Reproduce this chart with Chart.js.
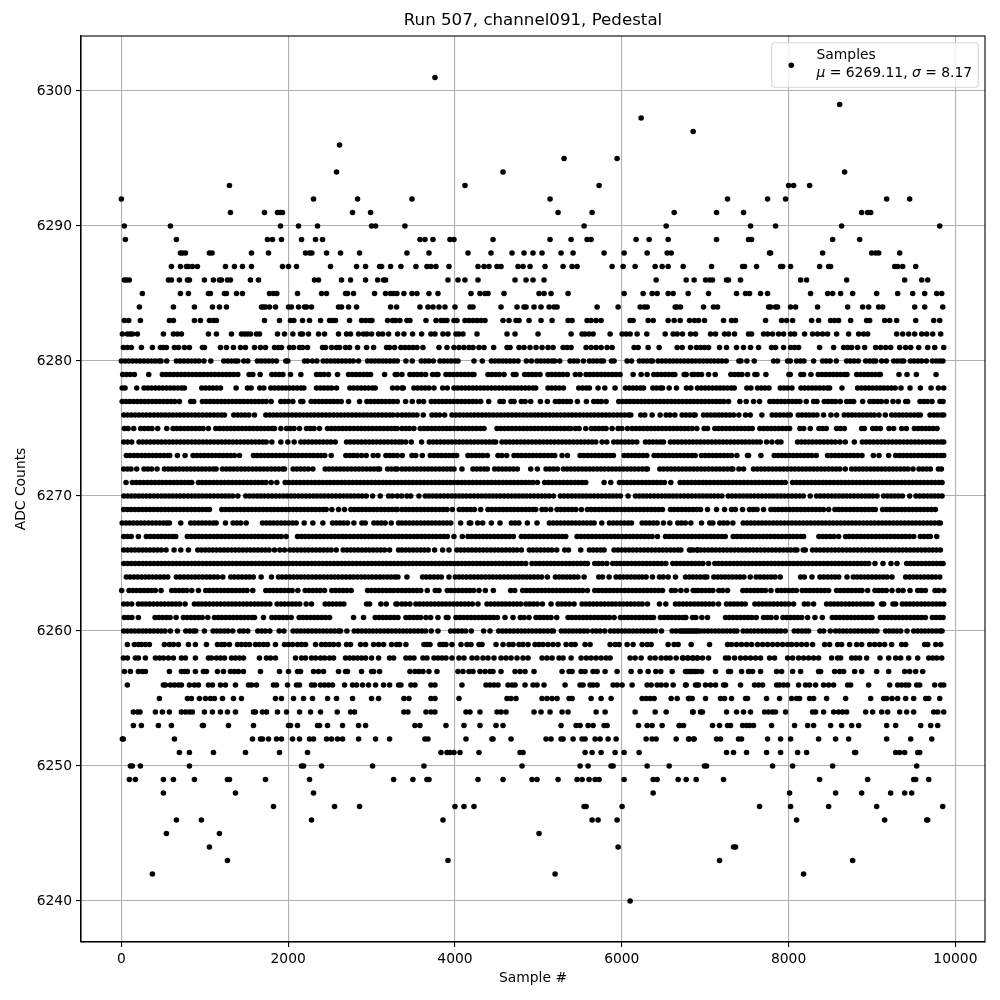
<!DOCTYPE html>
<html><head><meta charset="utf-8">
<style>html,body{margin:0;padding:0;background:#fff}#w{width:1000px;height:1000px;position:relative}</style>
<script src="https://cdn.jsdelivr.net/npm/chart.js@4"></script>
</head><body><div id="w"><canvas id="c" width="1000" height="1000"></canvas></div>
<script>
const chartTitle="Run 507, channel091, Pedestal";
const xTitle="Sample #";
const yTitle="ADC Counts";
const xTicks=[0,2000,4000,6000,8000,10000];
const yTicks=[6240,6250,6260,6270,6280,6290,6300];
const row6301=[3760];
const row6299=[8612];
const row6298=[6232];
const row6297=[6856];
const row6296=[2616];
const row6295=[5308,5944];
const row6294=[2580,4576,8672];
const row6293=[1296,4120,5728,8000,8060,8252];
const row6292=[0,2304,2832,3484,5140,7268,7748,7964,9176,9452];
const row6291=[1308,1716,1872,1904,1932,2772,2988,5236,5644,6628,7136,7460,8876,8948,8984];
const row6290=[36,588,1908,2124,2352,3000,3048,3400,5548,6532,7544,7844,8636,9812];
const row6289=[48,660,1752,1812,1920,2160,2328,2412,3580,3640,3736,3940,3988,4456,5140,5392,5584,5632,6172,6328,6556,7136,7520,7556,8528,8852];
const row6288=[708,732,768,1056,1088,1560,1764,2208,2256,2284,2460,2628,2856,3424,3688,4156,4432,4684,4828,4936,5044,5272,5416,5788,6028,6304,6544,6592,7772,7784,8408,8996,9044,9080,9332];
const row6287=[600,708,780,804,852,912,1248,1356,1452,1560,1932,2004,2100,2508,2820,2928,3096,3120,3228,3352,3532,3664,3712,3772,3928,4276,4348,4408,4504,4552,4756,4816,4900,5080,5296,5404,5464,5884,6016,6160,6400,6484,6556,6736,7076,7448,7472,7616,7904,7928,8024,8372,8480,8504,9272,9308,9368,9524];
const row6286=[36,64,96,564,600,696,792,816,996,1104,1176,1200,1272,1308,1548,1644,2316,2364,2640,2748,2928,3072,3144,3168,3916,4036,4120,4276,4720,4852,4936,5068,6412,6772,6868,7004,7052,7088,7256,7280,7424,8144,8216,8696,9392,9596,9668];
const row6285=[252,708,804,1044,1068,1236,1260,1380,1452,1776,1824,1864,2112,2400,2460,2688,2712,2784,3036,3168,3228,3264,3304,3388,3484,3544,3688,3796,4192,4300,4360,4396,4588,5008,5068,5152,5356,6028,6256,6364,6424,6556,6616,6796,7040,7376,7484,7532,7664,7748,8264,8468,8528,8624,8768,9056,9308,9488,9632,9776,9836];
const row6284=[216,624,876,1092,1176,1260,1680,1704,1728,1776,1848,2004,2040,2124,2196,2220,2280,2604,2640,2724,2820,3228,3300,3580,3676,3736,3808,3880,4000,4180,4216,4552,4744,4828,4852,4948,5032,5128,5188,5224,5704,5956,6220,6268,6304,6640,6664,6704,6980,7100,7148,7760,7784,7844,7868,8024,8084,8348,8708,8888,8960,9080,9128,9512,9632,9848];
const row6283=[36,88,228,576,624,876,948,1056,1104,1140,1716,1896,2028,2068,2172,2256,2388,2496,2532,2568,2736,2880,2928,2976,3004,3192,3252,3288,3340,3424,3460,3652,3772,3832,3868,3904,3988,4024,4120,4168,4216,4264,4312,4360,4576,4648,4732,4768,4888,5032,5164,5356,5404,5584,5632,5692,5752,6100,6136,6316,6376,6556,6628,6700,6812,6872,6920,6992,7220,7316,7364,7724,7916,7976,8048,8276,8360,8504,8552,8600,8744,8936,8972,9152,9212,9296,9524,9740,9812];
const row6282=[12,72,104,132,192,504,624,672,720,1044,1140,1320,1440,1476,1512,1548,1620,1656,1872,1956,2056,2148,2172,2244,2364,2436,2604,2700,2748,2844,2904,2944,3000,3084,3132,3204,3312,3388,3492,3600,3712,3760,3856,3916,4012,4048,4096,4264,4624,4720,4996,5392,5524,5560,5608,5656,5860,6004,6052,6100,6184,6300,6520,6616,6664,6728,6824,6884,7064,7124,7232,7280,7352,7520,7556,7700,7748,7808,7880,7940,8024,8072,8192,8288,8348,8408,8468,8576,8720,8840,8900,8948,9296,9368,9440,9512,9596,9656,9728,9824];
const row6281=[24,72,120,240,372,468,504,540,636,684,756,816,972,996,1188,1260,1344,1428,1488,1596,1668,1728,1836,1884,1920,2016,2064,2136,2172,2232,2412,2448,2520,2580,2616,2688,2736,2832,2940,3024,3180,3216,3276,3352,3400,3448,3496,3544,3616,3808,3904,3988,4048,4108,4168,4216,4288,4348,4464,4624,4660,4768,4828,4900,4972,5044,5116,5176,5296,5344,5392,5572,5632,5692,5752,5824,5884,6148,6196,6316,6448,6664,6724,6824,6896,6944,6992,7040,7172,7256,7376,7460,7544,7640,7796,7844,7940,8024,8072,8120,8372,8540,8660,8708,8756,8828,8912,9044,9104,9164,9224,9332,9404,9464,9560,9668,9752,9860];
const row6280=[0,45,90,135,180,225,270,315,360,405,450,476,544,660,705,750,795,840,885,930,990,1072,1228,1273,1318,1363,1396,1468,1516,1632,1677,1722,1767,1812,1860,1972,1996,2196,2232,2292,2344,2420,2465,2510,2555,2600,2645,2690,2735,2780,2844,2952,2997,3042,3087,3132,3177,3222,3267,3308,3412,3488,3596,3641,3686,3740,3820,3865,3910,3955,4000,4036,4228,4328,4436,4481,4526,4571,4616,4661,4706,4756,4856,4916,4984,5029,5074,5119,5164,5196,5256,5380,5425,5470,5540,5612,5657,5702,5747,5780,5876,5908,6064,6116,6212,6257,6302,6347,6368,6436,6481,6526,6571,6616,6661,6706,6751,6796,6841,6886,6931,6976,7021,7066,7111,7156,7201,7252,7404,7428,7500,7588,7820,7868,7988,8020,8096,8141,8184,8300,8408,8453,8498,8572,8696,8741,8786,8836,8924,8969,9014,9044,9116,9172,9260,9305,9350,9380,9460,9505,9550,9595,9652,9724,9769,9814,9850];
const row6279=[16,61,106,156,328,492,537,582,627,672,717,762,807,852,897,942,987,1032,1077,1122,1167,1212,1257,1302,1347,1396,1532,1576,1664,1804,1849,1894,1936,2028,2152,2340,2385,2430,2484,2592,2724,2769,2814,2859,2904,2949,2988,3156,3284,3308,3364,3460,3505,3550,3595,3648,3732,3777,3796,3892,3937,3982,4027,4072,4117,4162,4207,4228,4396,4441,4486,4531,4588,4700,4732,4836,4881,4926,4971,5020,5116,5161,5206,5251,5296,5348,5444,5500,5572,5617,5662,5707,5752,5797,5842,5887,5932,5980,6136,6232,6304,6384,6429,6474,6519,6564,6609,6636,6764,6844,6748,6772,6868,6913,6956,7040,7120,7308,7353,7398,7440,7508,7596,7620,7728,8004,8020,8148,8180,8268,8356,8401,8446,8491,8536,8581,8626,8671,8700,8816,8861,8906,8951,8996,9041,9086,9100,9324,9420,9532,9768];
const row6278=[10,44,184,272,317,362,407,452,497,542,587,632,677,722,756,964,1009,1054,1099,1144,1188,1376,1512,1556,1660,1708,1792,1837,1882,1927,1972,2017,2062,2107,2152,2188,2340,2385,2430,2475,2520,2580,2740,2785,2830,2875,2920,2965,3010,3044,3252,3308,3364,3380,3508,3553,3598,3643,3688,3748,3852,3908,3988,4033,4078,4123,4168,4213,4258,4303,4348,4393,4438,4483,4528,4573,4618,4663,4708,4753,4798,4843,4888,4933,4968,5116,5161,5206,5251,5300,5484,5529,5574,5612,5716,5796,5920,6044,6089,6134,6179,6224,6260,6372,6417,6462,6488,6568,6656,6776,6828,6908,6953,6998,7043,7088,7133,7178,7223,7268,7313,7348,7500,7548,7628,7673,7718,7764,7900,7945,7990,8040,8148,8193,8238,8283,8328,8373,8418,8463,8492,8640,8828,8873,8918,8963,9008,9053,9098,9143,9188,9233,9278,9348,9456,9580,9708,9796,9860];
const row6277=[10,55,100,145,190,235,280,325,370,415,460,505,550,595,640,696,832,868,972,1017,1062,1107,1152,1197,1242,1287,1332,1377,1422,1467,1512,1557,1602,1647,1692,1737,1796,1912,1957,2002,2056,2152,2176,2276,2321,2366,2411,2456,2501,2546,2591,2636,2724,2856,2944,2989,3034,3079,3124,3169,3214,3259,3308,3408,3488,3568,3624,3716,3761,3806,3851,3896,3941,3986,4031,4076,4121,4166,4211,4256,4308,4404,4540,4580,4672,4708,4796,4841,4908,5024,5108,5204,5249,5294,5339,5384,5468,5576,5664,5709,5754,5812,5964,6009,6054,6099,6144,6189,6234,6279,6324,6369,6414,6459,6504,6549,6594,6639,6684,6729,6774,6819,6864,6909,6954,6999,7044,7089,7134,7179,7224,7280,7416,7492,7580,7652,7776,7821,7866,7911,7956,8001,8046,8091,8136,8212,8300,8340,8428,8473,8518,8563,8620,8696,8741,8780,8888,8976,9021,9066,9111,9172,9252,9316,9404,9428,9576,9621,9666,9720,9816,9852];
const row6276=[30,75,120,165,210,255,300,345,390,435,480,525,570,615,660,705,750,795,840,885,930,975,1020,1065,1110,1155,1200,1236,1348,1393,1438,1483,1528,1596,1732,1777,1822,1867,1912,1957,2002,2047,2092,2137,2182,2227,2272,2317,2362,2407,2452,2497,2542,2587,2632,2677,2722,2767,2812,2857,2902,2947,2992,3037,3082,3127,3172,3217,3256,3312,3364,3409,3454,3499,3544,3620,3724,3769,3814,3876,3964,4009,4054,4099,4144,4189,4234,4279,4324,4369,4414,4459,4504,4549,4594,4639,4684,4729,4774,4819,4864,4909,4954,4999,5044,5089,5134,5179,5224,5269,5314,5359,5404,5449,5494,5539,5584,5629,5674,5719,5764,5809,5854,5899,5944,5989,6034,6079,6108,6228,6276,6364,6460,6532,6577,6636,6724,6769,6814,6859,6880,6980,7025,7070,7115,7160,7205,7250,7295,7340,7404,7484,7540,7680,7804,7849,7894,7939,7984,8020,8116,8161,8206,8251,8296,8341,8420,8508,8576,8668,8713,8758,8803,8848,8893,8938,8983,9028,9084,9160,9236,9281,9326,9371,9416,9461,9506,9551,9580,9696,9741,9786,9831,9860];
const row6275=[36,81,148,232,277,322,367,436,544,620,665,710,755,800,845,890,935,980,1044,1132,1177,1222,1267,1312,1357,1402,1447,1492,1537,1582,1627,1672,1717,1762,1807,1836,1912,1980,2025,2070,2136,2220,2265,2310,2376,2472,2517,2562,2607,2652,2697,2742,2787,2832,2877,2922,2967,3012,3057,3102,3147,3192,3237,3282,3308,3364,3409,3454,3508,3584,3629,3674,3719,3764,3809,3854,3899,3944,3989,4034,4079,4124,4169,4214,4259,4304,4348,4504,4549,4594,4639,4684,4729,4774,4819,4864,4909,4954,4999,5044,5089,5134,5179,5224,5269,5314,5359,5388,5444,5489,5568,5636,5681,5726,5771,5812,5884,5956,6001,6068,6124,6169,6214,6259,6304,6349,6394,6439,6484,6529,6574,6619,6664,6709,6754,6799,6844,6900,6988,7028,7116,7161,7206,7251,7296,7341,7386,7431,7476,7521,7564,7656,7701,7746,7791,7836,7881,7926,7971,8012,8136,8181,8260,8364,8409,8452,8576,8621,8668,8876,8908,9008,9053,9100,9204,9260,9356,9412,9508,9553,9598,9643,9688,9733,9780];
const row6274=[28,73,124,212,257,302,347,392,437,482,527,572,617,662,707,752,797,842,887,932,977,1022,1067,1112,1157,1202,1247,1292,1337,1382,1427,1472,1517,1562,1607,1652,1697,1736,1804,1912,1996,2072,2152,2197,2242,2287,2332,2377,2422,2467,2512,2564,2700,2745,2790,2835,2880,2925,2970,3015,3060,3105,3150,3195,3240,3285,3330,3364,3409,3476,3600,3692,3737,3782,3827,3872,3917,3962,4007,4052,4097,4142,4187,4232,4277,4322,4367,4412,4457,4488,4564,4609,4654,4699,4744,4789,4834,4879,4924,4969,5014,5059,5104,5149,5194,5239,5284,5329,5374,5419,5464,5509,5554,5599,5644,5688,5764,5820,5904,5949,5994,6039,6084,6129,6180,6284,6329,6374,6419,6464,6500,6584,6629,6674,6719,6764,6809,6854,6899,6944,6989,7034,7079,7124,7169,7214,7259,7304,7349,7394,7439,7484,7529,7574,7619,7660,7736,7800,7868,7908,8108,8153,8198,8243,8288,8333,8378,8423,8468,8513,8560,8616,8680,8788,8884,8929,8974,9019,9064,9109,9154,9199,9244,9289,9334,9379,9424,9469,9514,9559,9604,9649,9694,9739,9784,9829,9860];
const row6273=[60,105,150,195,240,285,330,375,420,465,510,555,580,672,764,860,905,950,995,1040,1085,1130,1175,1220,1265,1310,1355,1416,1584,1629,1674,1719,1764,1809,1854,1899,1944,1989,2034,2079,2124,2169,2214,2259,2304,2349,2394,2439,2516,2692,2737,2782,2827,2880,2936,3020,3076,3172,3217,3262,3308,3368,3484,3529,3608,3704,3749,3794,3839,3884,3929,3974,4020,4156,4201,4246,4291,4336,4388,4516,4561,4620,4708,4753,4798,4843,4888,4933,4978,5023,5068,5113,5158,5196,5284,5348,5500,5545,5590,5635,5680,5725,5770,5815,5860,5900,6028,6073,6118,6163,6208,6253,6300,6388,6433,6478,6523,6568,6613,6658,6703,6748,6793,6838,6880,6956,7001,7046,7091,7136,7181,7226,7271,7316,7380,7508,7520,7668,7828,7873,7918,7963,8008,8053,8098,8143,8188,8233,8278,8332,8468,8513,8558,8603,8648,8693,8738,8783,8828,8880,9016,9084,9200,9284,9329,9374,9419,9464,9509,9554,9599,9644,9689,9734,9779,9824,9860];
const row6272=[28,73,116,184,272,317,362,428,516,561,606,651,696,741,786,831,876,921,966,1011,1056,1101,1136,1212,1257,1302,1347,1392,1437,1482,1527,1572,1617,1662,1707,1752,1797,1842,1887,1932,1956,2060,2105,2150,2195,2240,2296,2444,2489,2534,2579,2624,2669,2714,2759,2804,2849,2894,2939,2984,3029,3074,3096,3192,3237,3282,3308,3364,3409,3454,3499,3544,3589,3634,3679,3724,3769,3814,3859,3904,3949,3988,4084,4216,4261,4306,4351,4388,4476,4521,4566,4611,4656,4701,4748,4908,4988,5092,5137,5182,5228,5300,5345,5390,5435,5480,5525,5570,5615,5660,5705,5750,5795,5840,5885,5930,5975,6020,6065,6110,6155,6200,6245,6290,6308,6456,6501,6546,6591,6636,6681,6726,6771,6816,6861,6906,6951,6996,7041,7086,7131,7176,7221,7266,7311,7332,7404,7460,7580,7625,7670,7715,7760,7805,7850,7895,7940,7985,8030,8075,8120,8165,8210,8255,8300,8345,8390,8435,8480,8525,8570,8615,8680,8756,8801,8846,8891,8936,8981,9026,9071,9116,9161,9206,9251,9296,9341,9386,9431,9492,9564,9609,9654,9700,9796,9832];
const row6271=[56,132,177,222,267,312,357,402,447,492,537,582,627,672,717,762,807,844,924,969,1014,1059,1104,1149,1194,1239,1284,1329,1374,1419,1464,1509,1554,1599,1644,1689,1734,1796,1864,1964,2009,2054,2099,2144,2189,2234,2279,2324,2369,2414,2459,2504,2549,2594,2639,2684,2729,2774,2819,2864,2909,2954,2999,3044,3089,3134,3179,3224,3269,3314,3359,3404,3449,3494,3539,3584,3629,3674,3719,3764,3809,3854,3899,3944,3989,4034,4079,4124,4169,4214,4259,4304,4349,4394,4439,4484,4529,4574,4619,4664,4709,4754,4799,4844,4889,4934,4988,5076,5121,5166,5211,5256,5301,5346,5391,5436,5481,5526,5568,5788,5868,5972,6017,6062,6107,6152,6197,6242,6287,6332,6377,6422,6467,6512,6588,6700,6745,6790,6835,6880,6925,6970,7015,7060,7105,7150,7195,7240,7285,7330,7375,7420,7465,7510,7555,7600,7645,7690,7735,7780,7825,7870,7915,7960,8048,8093,8138,8183,8228,8273,8318,8363,8408,8453,8498,8543,8588,8633,8678,8723,8768,8813,8858,8903,8948,8993,9038,9083,9128,9173,9218,9263,9308,9353,9398,9443,9488,9533,9578,9623,9668,9713,9758,9803,9840];
const row6270=[30,75,120,165,210,255,300,345,390,435,480,525,570,615,660,705,750,795,840,885,930,975,1020,1065,1110,1155,1200,1245,1290,1335,1396,1492,1537,1582,1627,1672,1717,1762,1807,1852,1897,1942,1987,2032,2077,2122,2167,2212,2257,2302,2347,2392,2437,2482,2527,2572,2617,2662,2707,2752,2797,2842,2887,2936,3012,3104,3204,3249,3308,3360,3424,3469,3568,3644,3689,3734,3779,3824,3869,3914,3959,4004,4049,4094,4139,4184,4229,4274,4319,4364,4409,4454,4499,4544,4589,4634,4679,4724,4769,4814,4859,4904,4949,4994,5039,5084,5129,5180,5264,5309,5354,5399,5444,5489,5534,5579,5624,5669,5714,5759,5804,5849,5894,5939,5984,6076,6164,6209,6254,6299,6344,6389,6434,6479,6524,6569,6614,6659,6704,6749,6794,6839,6884,6929,6974,7019,7064,7109,7154,7200,7276,7321,7366,7411,7456,7501,7546,7591,7636,7681,7726,7771,7816,7861,7906,7951,7996,8041,8086,8131,8176,8260,8336,8381,8426,8471,8516,8561,8606,8651,8696,8741,8786,8831,8876,8921,8966,9011,9060,9140,9185,9230,9275,9320,9365,9452,9528,9573,9618,9663,9708,9753,9798,9840];
const row6269=[28,73,118,163,208,253,298,343,388,433,478,523,568,613,658,703,748,793,838,883,928,973,1018,1056,1204,1249,1294,1339,1384,1429,1474,1519,1564,1609,1654,1699,1744,1789,1834,1879,1924,1969,2014,2059,2104,2149,2194,2239,2284,2329,2374,2419,2456,2524,2604,2676,2752,2797,2842,2887,2932,2977,3022,3067,3112,3157,3202,3247,3292,3308,3364,3409,3454,3499,3544,3589,3634,3679,3724,3769,3814,3859,3904,3968,4052,4097,4142,4187,4232,4308,4396,4441,4486,4531,4576,4621,4666,4711,4756,4801,4846,4891,4936,4968,5044,5089,5148,5224,5269,5314,5359,5404,5449,5516,5588,5633,5678,5723,5768,5813,5858,5903,5948,5993,6038,6083,6128,6173,6218,6263,6308,6353,6398,6443,6488,6584,6629,6674,6719,6764,6809,6854,6899,6944,7028,7136,7232,7316,7361,7448,7532,7577,7622,7700,7788,7833,7878,7923,7968,8013,8058,8103,8148,8193,8238,8283,8328,8373,8418,8480,8556,8601,8646,8691,8736,8781,8826,8871,8916,8961,9006,9040,9128,9173,9218,9263,9308,9353,9398,9443,9488,9533,9578,9623,9668,9713,9760];
const row6268=[10,55,100,145,190,235,280,325,370,415,460,505,544,576,712,832,877,922,967,1012,1057,1102,1136,1248,1340,1385,1430,1496,1692,1737,1782,1827,1872,1917,1962,2007,2052,2096,2192,2296,2416,2532,2577,2622,2667,2712,2788,2884,2924,3028,3073,3118,3163,3236,3324,3364,3409,3454,3499,3544,3589,3634,3679,3724,3769,3814,3859,3904,3949,4068,4172,4188,4272,4332,4436,4540,4676,4721,4766,4868,4984,5132,5177,5222,5267,5312,5357,5402,5447,5492,5537,5582,5627,5668,5760,5852,5897,5942,5987,6032,6077,6116,6244,6289,6334,6379,6424,6500,6576,6672,6717,6762,6828,6956,7056,7092,7176,7221,7266,7332,7456,7501,7546,7591,7636,7681,7726,7771,7816,7861,7906,7951,7996,8041,8086,8131,8176,8221,8266,8311,8356,8401,8446,8491,8536,8581,8626,8671,8716,8761,8806,8851,8896,8941,8986,9031,9076,9121,9166,9211,9256,9301,9346,9391,9436,9481,9526,9571,9616,9661,9706,9751,9796,9820];
const row6267=[28,73,118,204,300,345,390,435,480,525,570,615,652,792,837,882,927,972,1017,1062,1107,1152,1197,1242,1287,1332,1377,1422,1467,1512,1557,1602,1647,1692,1737,1782,1827,1872,1917,1976,2112,2157,2202,2247,2292,2337,2382,2427,2472,2517,2562,2607,2652,2697,2742,2787,2832,2877,2922,2967,3012,3057,3102,3147,3192,3237,3282,3327,3372,3417,3462,3507,3552,3597,3642,3687,3732,3777,3822,3867,3908,3988,4088,4156,4201,4246,4291,4336,4381,4426,4471,4516,4561,4606,4651,4700,4796,4841,4886,4931,4976,5021,5066,5111,5156,5201,5246,5291,5328,5464,5509,5554,5599,5644,5689,5734,5779,5824,5869,5914,5959,6004,6049,6094,6139,6184,6229,6274,6319,6364,6428,6524,6569,6614,6659,6704,6749,6794,6839,6884,6929,6974,7019,7064,7109,7154,7199,7240,7336,7381,7426,7471,7516,7561,7606,7651,7696,7741,7786,7831,7876,7921,7966,8011,8056,8101,8146,8180,8364,8409,8454,8499,8544,8600,8684,8729,8774,8819,8864,8909,8954,8999,9044,9089,9134,9179,9224,9269,9314,9359,9404,9449,9500,9580,9625,9670,9700,9776];
const row6266=[28,73,118,163,208,253,298,343,388,433,478,536,632,712,804,916,961,1006,1051,1096,1141,1186,1231,1276,1321,1366,1411,1456,1501,1546,1591,1636,1681,1726,1771,1836,1900,1956,2020,2065,2110,2155,2200,2245,2290,2335,2380,2425,2470,2515,2576,2660,2705,2750,2795,2840,2885,2930,2975,3020,3065,3110,3155,3216,3324,3364,3409,3454,3499,3544,3589,3634,3679,3756,3852,3928,4024,4069,4114,4159,4204,4249,4294,4339,4384,4429,4474,4519,4564,4609,4654,4699,4744,4796,4892,4937,4982,5027,5072,5117,5162,5220,5316,5361,5508,5612,5657,5702,5747,5788,5908,5953,5998,6043,6088,6133,6178,6223,6268,6313,6358,6403,6448,6493,6538,6583,6628,6673,6708,6824,6908,6812,6857,6902,6947,6992,7037,7082,7127,7172,7217,7262,7307,7352,7397,7442,7487,7532,7577,7622,7667,7712,7757,7802,7847,7892,7937,7982,8027,8072,8100,8176,8200,8288,8333,8378,8423,8468,8513,8558,8603,8648,8693,8738,8783,8828,8873,8918,8963,9008,9053,9098,9143,9188,9233,9278,9323,9368,9413,9458,9503,9548,9593,9638,9683,9728,9773,9820];
const row6265=[30,75,120,165,210,255,300,345,390,435,480,525,570,615,660,705,750,795,840,885,930,975,1020,1065,1110,1155,1200,1245,1290,1335,1380,1425,1470,1515,1560,1605,1650,1695,1740,1785,1830,1875,1920,1965,2010,2055,2100,2145,2190,2235,2280,2325,2370,2415,2460,2505,2550,2595,2640,2685,2730,2775,2820,2865,2910,2955,3000,3045,3090,3135,3180,3225,3270,3315,3360,3405,3450,3495,3540,3585,3630,3675,3720,3765,3810,3855,3900,3945,3990,4035,4080,4125,4170,4215,4260,4305,4350,4395,4440,4485,4530,4575,4620,4665,4710,4755,4800,4848,4924,4969,5014,5059,5104,5149,5194,5239,5284,5329,5374,5419,5464,5509,5554,5588,5676,5721,5766,5820,5892,5937,5982,6027,6072,6117,6162,6207,6252,6297,6342,6387,6432,6477,6528,6612,6657,6702,6747,6792,6837,6882,6927,6972,7040,7116,7161,7206,7251,7296,7341,7386,7431,7476,7521,7566,7611,7656,7701,7746,7791,7836,7881,7926,7971,8016,8061,8106,8151,8196,8241,8286,8331,8376,8421,8466,8511,8556,8601,8646,8691,8736,8781,8826,8871,8916,8960,9036,9132,9228,9300,9416,9461,9506,9551,9596,9641,9686,9731,9776,9821,9852];
const row6264=[60,105,150,195,240,285,330,375,420,465,510,556,660,705,750,795,840,885,930,975,1020,1065,1110,1155,1216,1312,1357,1402,1447,1492,1537,1582,1676,1800,1884,1929,1974,2019,2064,2109,2154,2199,2244,2289,2334,2379,2424,2469,2514,2559,2604,2649,2694,2739,2784,2829,2874,2919,2964,3009,3054,3099,3144,3189,3234,3279,3316,3424,3612,3657,3702,3747,3792,3837,3928,4004,4049,4094,4139,4184,4229,4274,4319,4364,4409,4454,4499,4544,4589,4634,4679,4724,4769,4814,4859,4904,4949,4994,5039,5108,5204,5249,5294,5339,5384,5429,5474,5548,5724,5769,5848,5932,5977,6022,6067,6112,6157,6202,6247,6292,6368,6452,6497,6556,6644,6764,6809,6854,6899,6944,6989,7020,7104,7149,7194,7239,7284,7329,7374,7419,7464,7540,7612,7657,7702,7747,7792,7837,7900,8144,8189,8280,8376,8421,8466,8511,8556,8601,8700,8776,8821,8866,8911,8956,9001,9046,9091,9136,9181,9240,9404,9449,9494,9539,9584,9629,9674,9719,9764,9812];
const row6263=[4,92,137,182,227,272,317,362,407,476,604,649,694,739,784,844,924,1012,1057,1102,1147,1192,1237,1282,1327,1372,1417,1462,1507,1576,1732,1777,1822,1867,1912,1957,2002,2047,2116,2204,2249,2294,2339,2384,2436,2524,2569,2614,2659,2704,2756,2952,2997,3042,3087,3132,3177,3222,3267,3316,3364,3409,3454,3499,3544,3589,3668,3764,3808,3908,3953,3998,4043,4088,4133,4178,4223,4288,4364,4460,4668,4716,4812,4857,4902,4947,4992,5037,5082,5127,5172,5217,5262,5307,5352,5397,5442,5487,5532,5588,5676,5721,5766,5811,5856,5901,5946,5991,6036,6081,6126,6171,6216,6261,6306,6351,6396,6441,6488,6596,6641,6708,6776,6884,6856,6916,6961,7006,7051,7092,7164,7209,7268,7452,7497,7542,7587,7632,7677,7722,7788,7868,7913,7958,8003,8048,8092,8164,8209,8254,8299,8344,8389,8434,8480,8576,8621,8666,8711,8756,8801,8846,8880,8948,9036,9081,9126,9171,9240,9316,9372,9456,9548,9593,9640,9756,9801,9860];
const row6262=[28,73,124,204,249,294,339,384,429,474,519,564,609,654,699,764,876,921,966,1011,1056,1101,1146,1191,1236,1281,1326,1371,1416,1461,1506,1551,1596,1641,1686,1731,1780,1868,1913,1958,2003,2048,2093,2138,2216,2280,2444,2489,2534,2579,2624,2668,2940,2976,3112,3176,3292,3308,3364,3409,3460,3532,3577,3622,3667,3712,3757,3802,3847,3892,3937,3982,4027,4072,4117,4162,4208,4276,4384,4429,4474,4519,4564,4609,4654,4699,4744,4788,4852,4897,4942,4987,5048,5152,5236,5281,5326,5371,5428,5524,5569,5614,5659,5704,5749,5794,5839,5884,5929,5974,6019,6064,6109,6154,6199,6244,6308,6452,6528,6644,6689,6734,6779,6824,6869,6914,6959,7004,7049,7094,7160,7256,7301,7346,7391,7436,7480,7596,7641,7686,7731,7776,7821,7866,7911,7956,8001,8060,8188,8233,8300,8456,8501,8546,8591,8636,8681,8726,8771,8816,8861,8906,8951,9000,9116,9140,9252,9284,9364,9409,9454,9499,9544,9589,9634,9679,9724,9769,9814,9860];
const row6261=[36,81,126,204,404,449,494,539,584,656,744,789,834,879,924,969,1036,1116,1161,1206,1251,1296,1341,1386,1431,1476,1521,1566,1596,1704,1804,1849,1894,1939,1984,2036,2132,2177,2222,2267,2312,2357,2402,2447,2496,2784,2904,3044,3089,3134,3179,3224,3269,3316,3412,3457,3502,3547,3588,3652,3708,3796,3896,3916,4012,4057,4102,4147,4192,4237,4282,4327,4372,4417,4462,4508,4600,4696,4784,4829,4888,4972,5017,5062,5107,5152,5220,5356,5401,5446,5491,5536,5581,5626,5671,5716,5761,5806,5851,5908,5984,6029,6074,6119,6164,6209,6254,6299,6344,6380,6464,6509,6554,6599,6644,6689,6734,6768,6888,6760,6848,6960,7028,7244,7289,7334,7379,7424,7469,7514,7559,7612,7700,7745,7790,7852,7932,7977,8022,8067,8112,8157,8228,8316,8404,8524,8569,8614,8659,8704,8749,8794,8839,8884,8929,8974,9000,9100,9145,9190,9235,9280,9325,9370,9415,9460,9505,9550,9595,9640,9724,9769,9814,9852];
const row6260=[28,73,118,163,208,253,298,343,388,433,478,523,588,672,772,817,862,892,996,1100,1145,1190,1235,1280,1336,1420,1465,1516,1636,1681,1726,1780,1892,1948,2060,2105,2150,2195,2240,2285,2330,2375,2420,2465,2510,2555,2600,2628,2704,2792,2837,2882,2927,2972,3017,3062,3107,3152,3197,3242,3287,3332,3377,3422,3467,3512,3557,3602,3647,3716,3796,3948,3993,4038,4083,4128,4196,4344,4420,4524,4569,4614,4659,4704,4749,4794,4839,4884,4929,4974,5019,5064,5109,5154,5180,5276,5321,5366,5411,5456,5501,5546,5588,5652,5697,5742,5796,5864,5909,5954,5999,6044,6089,6134,6179,6224,6269,6314,6359,6404,6476,6604,6649,6694,6739,6784,6829,6874,6908,6716,6761,6806,6851,6896,6941,6986,7031,7076,7121,7166,7211,7256,7301,7346,7380,7456,7501,7546,7591,7636,7681,7726,7771,7816,7861,7906,7960,8068,8113,8158,8203,8240,8376,8421,8500,8564,8609,8654,8699,8744,8789,8834,8879,8924,8969,9014,9060,9164,9209,9254,9299,9344,9420,9500,9545,9590,9635,9680,9725,9770,9815,9840];
const row6259=[72,156,204,240,288,336,516,576,624,684,804,888,1020,1152,1200,1236,1296,1392,1440,1488,1536,1608,1656,1704,1752,1848,1956,2004,2052,2112,2160,2208,2328,2400,2448,2496,2544,2604,2700,2748,2868,2928,3024,3084,3144,3240,3300,3336,3412,3628,3664,3700,3820,3856,3892,3964,4072,4144,4192,4288,4324,4492,4576,4648,4696,4768,4816,4876,4960,5008,5056,5116,5176,5236,5332,5392,5440,5560,5620,5860,5920,5968,6064,6136,6244,6304,6352,6556,6628,6676,6832,7052,7268,7316,7376,7436,7496,7556,7628,7688,7748,7808,7868,7928,7988,8036,8096,8156,8216,8288,8432,8492,8588,8636,8732,8816,8876,8972,9032,9092,9152,9236,9356,9404,9632,9668,9764,9824];
const row6258=[24,72,168,204,288,408,456,504,564,624,720,768,888,1044,1080,1140,1188,1236,1320,1368,1416,1464,1656,1740,1788,1848,2088,2160,2208,2280,2328,2388,2436,2496,2544,2688,2736,2784,2832,2880,2928,3000,3084,3216,3264,3412,3460,3508,3616,3664,3748,3796,3844,3892,3964,4048,4108,4204,4264,4336,4396,4468,4552,4612,4672,4744,4816,4876,5044,5104,5164,5248,5296,5392,5512,5576,5632,5692,5752,5812,5860,6100,6160,6232,6340,6400,6472,6532,6580,6652,6736,6796,6856,6904,6728,6788,6848,6908,6968,7040,7244,7280,7352,7424,7484,7544,7604,7664,7772,7832,7988,8048,8120,8180,8240,8300,8360,8516,8588,8624,8756,8804,8852,8936,9096,9200,9284,9344,9440,9548,9680,9728,9776,9836];
const row6257=[36,108,204,252,288,576,720,756,792,888,984,1020,1152,1224,1308,1356,1404,1464,1668,1896,2004,2112,2148,2304,2364,2424,2604,2688,2712,2880,3000,3024,3096,3460,3520,3568,3616,3688,3784,4036,4096,4168,4216,4300,4360,4420,4456,4552,4720,4780,4840,4948,5284,5368,5404,5512,5560,5656,5704,5800,5944,6112,6220,6316,6408,6468,6604,6784,6832,6880,6764,6812,6860,6908,6956,7124,7280,7304,7436,7520,7568,7664,7856,7916,8048,8144,8360,8384,8552,8612,8660,8792,8876,9056,9200,9392,9452,9524,9608];
const row6256=[72,504,528,588,636,684,720,816,876,924,1044,1092,1188,1248,1368,1524,1560,1620,1824,1860,1992,2100,2136,2280,2316,2388,2436,2484,2532,2676,2772,2820,2892,2964,3048,3144,3216,3324,3352,3472,3520,3712,3760,4084,4372,4420,4468,4516,4636,4684,4720,4840,4936,4984,5068,5320,5500,5536,5620,5656,5704,5896,5944,6004,6124,6304,6352,6424,6472,6532,6616,6772,6904,6764,6884,6920,7004,7064,7124,7220,7244,7424,7592,7640,7688,7856,7892,7940,7988,8120,8204,8252,8324,8420,8480,8540,8708,8744,8960,9212,9308,9356,9404,9440,9536,9572,9752,9824,9860];
const row6255=[456,792,840,936,1008,1068,1116,1212,1344,1440,1848,1920,2064,2184,2292,2472,2580,2772,3000,3084,3388,3448,3712,3760,4048,4624,4672,4732,5044,5104,5164,5224,5368,5404,5632,5752,5872,6244,6292,6340,6388,6592,6664,6808,6844,6800,6824,7004,7184,7232,7316,7484,7508,7736,7892,8036,8096,8132,8252,8300,8456,8684,8984,9140,9176,9240,9308,9404,9500,9644,9680,9812];
const row6254=[144,192,224,408,492,576,720,768,816,852,996,1092,1188,1272,1368,1584,1608,1692,1740,1872,1980,2136,2268,2388,2588,2748,2796,3388,3436,3652,3712,3760,4132,4180,4300,4504,4552,4612,4948,5032,5140,5284,5356,5692,5800,6160,6400,6532,6856,6848,6944,6968,7256,7376,7460,7544,7712,7760,7808,7844,7964,8288,8324,8420,8540,8600,8648,8696,8924,9008,9116,9188,9332,9416,9500,9740,9788,9860];
const row6253=[144,240,444,600,972,984,1284,1584,2004,2028,2112,2352,2376,2472,2652,2844,2928,3520,3580,3892,4108,4300,4492,4576,5272,5452,5500,5596,5656,5788,5824,6200,6304,6364,6484,6688,6692,6740,7088,7172,7268,7304,7448,7496,7532,7580,7796,8072,8228,8300,8504,8636,8756,8840,9176,9284,9584,9704,9788];
const row6252=[12,24,636,1572,1668,1692,1764,1860,1920,2052,2136,2256,2304,2460,2520,2592,2652,2844,3048,3216,3640,3676,4132,4444,4456,4672,5092,5152,5272,5296,5416,5524,5560,5680,5740,5836,5932,6292,6364,6412,6652,6808,6868,6800,6860,7136,7184,7400,7436,7748,7904,8024,8360,8564,8720,9176,9464,9716];
const row6251=[696,816,1104,1488,1896,2232,3832,3904,3940,3988,4060,4288,4780,4816,5560,5644,5752,5920,6028,6208,7256,7340,7496,7736,7904,8108,8216,8792,8804,9284,9332,9392,9548,9572];
const row6250=[108,132,228,816,2160,2184,2400,3012,3628,4804,5500,5596,5872,5896,6304,6568,6992,7016,7808,8048,8528,9536];
const row6249=[96,168,504,624,876,1272,1296,1728,2256,3264,3496,3664,3688,4276,4576,4924,4984,5236,5464,5524,5608,5680,5728,6028,6376,6424,6676,6772,6892,7220,8372,8948,9500,9524,9680];
const row6248=[504,1368,2304,6376,8012,8564,8876,9224,9392,9476];
const row6247=[1824,2556,2856,4000,4108,4228,5548,5572,6004,7652,8024,8480,9056,9848];
const row6246=[660,960,2280,3856,5644,5716,5944,8096,9152,9656,9668];
const row6245=[540,1176,5008];
const row6244=[1056,5956,7340,7364];
const row6243=[1272,3916,7172,8768];
const row6242=[372,5200,8180];
const row6240=[6100];
const rowLevels=[6301,6299,6298,6297,6296,6295,6294,6293,6292,6291,6290,6289,6288,6287,6286,6285,6284,6283,6282,6281,6280,6279,6278,6277,6276,6275,6274,6273,6272,6271,6270,6269,6268,6267,6266,6265,6264,6263,6262,6261,6260,6259,6258,6257,6256,6255,6254,6253,6252,6251,6250,6249,6248,6247,6246,6245,6244,6243,6242,6240];
const rowSamples=[row6301,row6299,row6298,row6297,row6296,row6295,row6294,row6293,row6292,row6291,row6290,row6289,row6288,row6287,row6286,row6285,row6284,row6283,row6282,row6281,row6280,row6279,row6278,row6277,row6276,row6275,row6274,row6273,row6272,row6271,row6270,row6269,row6268,row6267,row6266,row6265,row6264,row6263,row6262,row6261,row6260,row6259,row6258,row6257,row6256,row6255,row6254,row6253,row6252,row6251,row6250,row6249,row6248,row6247,row6246,row6245,row6244,row6243,row6242,row6240];
const points=[];
rowLevels.forEach((lvl,i)=>rowSamples[i].forEach(s=>points.push({x:s,y:lvl})));

const FONT='"DejaVu Sans"';
const legendPlugin={
 id:'frameLegend',
 afterDatasetsDraw(chart){
  const {ctx,chartArea:a}=chart;
  ctx.save();
  ctx.strokeStyle='#000';ctx.lineWidth=1.1;
  ctx.strokeRect(a.left,a.top,a.right-a.left,a.bottom-a.top);
  const bx=771.7,by=42.7,bw=206.6,bh=44.6;
  ctx.beginPath();ctx.roundRect(bx,by,bw,bh,3);
  ctx.fillStyle='rgba(255,255,255,0.8)';ctx.fill();
  ctx.strokeStyle='rgba(204,204,204,0.8)';ctx.lineWidth=1.1;ctx.stroke();
  ctx.fillStyle='#000';
  ctx.beginPath();ctx.arc(791.3,65.3,2.78,0,Math.PI*2);ctx.fill();
  ctx.textBaseline='alphabetic';ctx.textAlign='left';
  ctx.font='13.89px '+FONT;
  ctx.fillText('Samples',816.5,58.8);
  let tx=816.5;const ty=76.8;
  [['μ',1],[' = 6269.11, ',0],['σ',1],[' = 8.17',0]].forEach(([t,it])=>{
   ctx.font=(it?'italic ':'')+'13.89px '+FONT;
   ctx.fillText(t,tx,ty);tx+=ctx.measureText(t).width;
  });
  ctx.restore();
 }
};
new Chart(document.getElementById('c'),{
 type:'scatter',
 data:{datasets:[{label:'Samples',data:points,backgroundColor:'#000',borderWidth:0,pointRadius:2.78,pointHoverRadius:2.78}]},
 plugins:[legendPlugin],
 options:{
  responsive:false,animation:false,parsing:false,normalized:true,
  layout:{padding:{left:0,right:15,top:0,bottom:0}},
  plugins:{
   legend:{display:false},tooltip:{enabled:false},
   title:{display:true,fullSize:false,text:chartTitle,color:'#000',font:{family:FONT,size:16.67,weight:'normal'},padding:{top:11,bottom:5}}
  },
  scales:{
   x:{type:'linear',min:-484,max:10355,
    afterFit(s){s.height=58;},
    afterBuildTicks(s){s.ticks=xTicks.map(v=>({value:v}));},
    title:{display:true,text:xTitle,color:'#000',font:{family:FONT,size:13.89},padding:{top:4,bottom:13}},
    grid:{color:'#b0b0b0',lineWidth:1.1,tickColor:'#000',tickLength:5,tickWidth:1.1},
    border:{color:'#000',width:1.1},
    ticks:{color:'#000',font:{family:FONT,size:13.89},padding:4,maxRotation:0,callback:v=>String(v)}},
   y:{type:'linear',min:6236.96,max:6304.07,
    afterFit(s){s.width=81;},
    afterBuildTicks(s){s.ticks=yTicks.map(v=>({value:v}));},
    title:{display:true,text:yTitle,color:'#000',font:{family:FONT,size:13.89},padding:{top:13,bottom:4}},
    grid:{color:'#b0b0b0',lineWidth:1.1,tickColor:'#000',tickLength:5,tickWidth:1.1},
    border:{color:'#000',width:1.1},
    ticks:{color:'#000',font:{family:FONT,size:13.89},padding:4,callback:v=>String(v)}}
  }
 }
});
</script></body></html>
